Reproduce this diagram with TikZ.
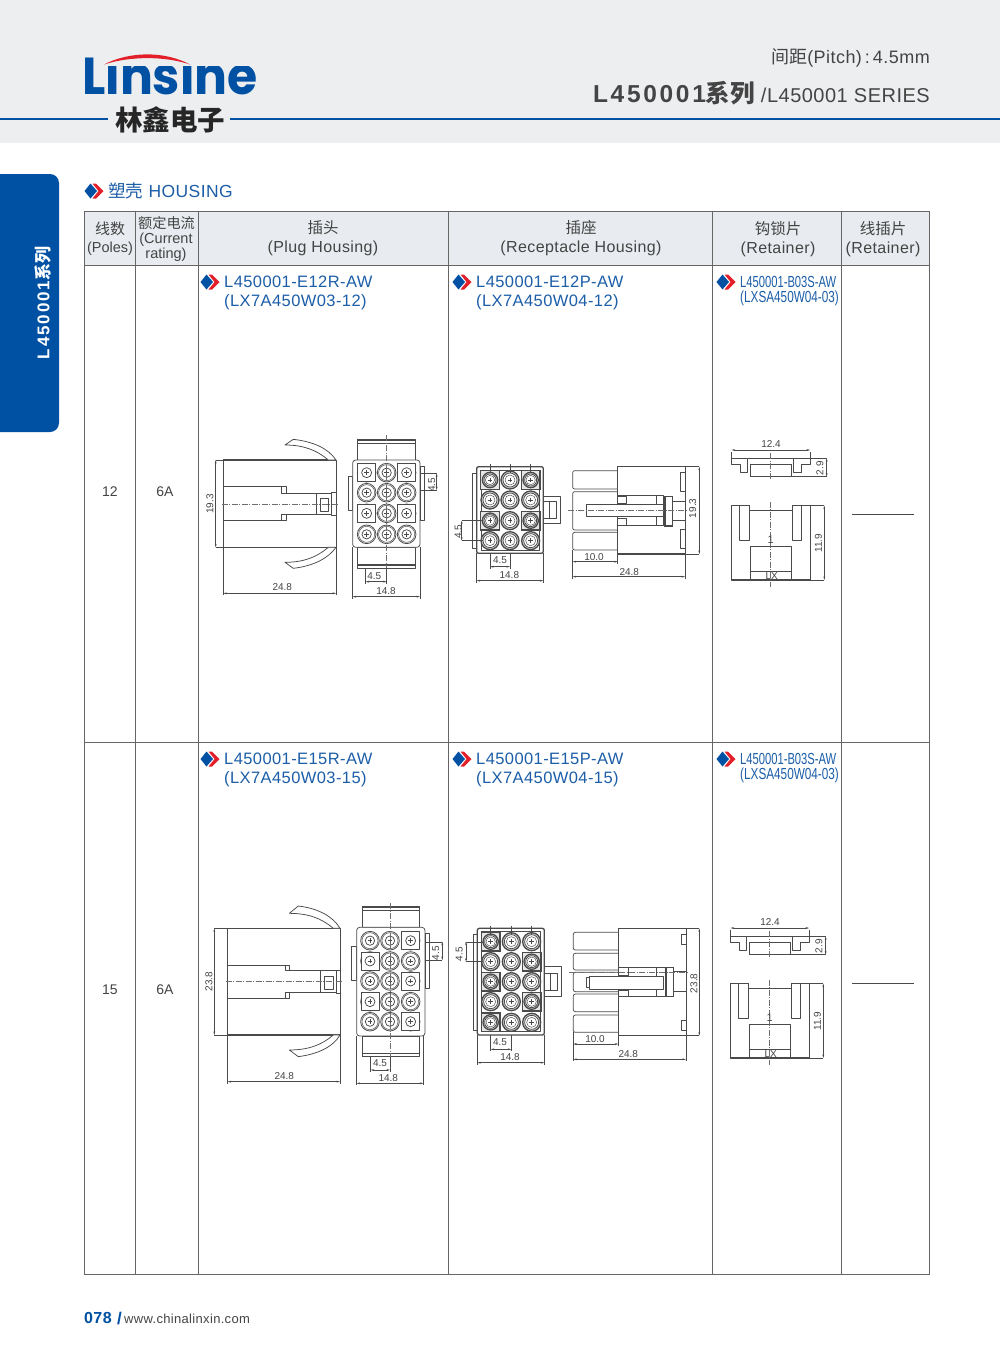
\documentclass[tikz,border=0pt]{standalone}
\usepackage{fontspec}
\usetikzlibrary{arrows.meta}
\setmainfont{Liberation Sans}
\newfontfamily\cjk{Noto Sans CJK SC}
\newfontfamily\lsp[LetterSpace=2.5]{Liberation Sans}
\newfontfamily\lspb[LetterSpace=11]{Liberation Sans}
\newfontfamily\cond[FakeStretch=0.70]{Liberation Sans}
\newfontfamily\condb[FakeStretch=0.735]{Liberation Sans}
\newfontfamily\logof{Poppins}
\definecolor{brand}{HTML}{0050A3}
\definecolor{lab}{HTML}{1C5EA8}
\definecolor{hdr}{HTML}{ECEEF0}
\definecolor{thead}{HTML}{E8ECF0}
\definecolor{grid}{HTML}{666666}
\definecolor{ink}{HTML}{4A4A4A}
\definecolor{txt}{HTML}{444444}
\definecolor{redmark}{HTML}{E3202A}
\definecolor{ringc}{HTML}{CFCFCF}
\newcommand{\fs}[1]{\fontsize{#1}{#1}\selectfont}
\newcount\nid
\tikzset{
 txtn/.style={inner sep=0pt,text=txt},
 part/.style={draw=ink,line width=0.75pt,line join=round},
 heavy/.style={draw=ink,line width=1.3pt},
 thin/.style={draw=ink,line width=0.45pt},
 cl/.style={draw=ink!80,line width=0.35pt,dash pattern=on 6pt off 1.5pt on 1pt off 1.5pt},
 dimn/.style={draw=ink,line width=0.35pt},
 dima/.style={draw=ink,line width=0.35pt,{Stealth[length=3.5pt,width=1.8pt]}-{Stealth[length=3.5pt,width=1.8pt]}},
 gridl/.style={draw=grid,line width=1pt},
}
% horizontal dim: x1 x2 y text tx ty ext-start-y
\newcommand{\dimh}[7]{%
 \draw[dimn] (#1,#7) -- (#1,#3+6) (#2,#7) -- (#2,#3+6);
 \draw[dima] (#1,#3) -- (#2,#3);
 \global\advance\nid by 1
 \node[inner sep=0pt,text=txt,font=\fs{10}] (d\the\nid) at (#5,#6) {#4};
}
% vertical dim: y1 y2 x text tx ty ext-start-x
\newcommand{\dimv}[7]{%
 \draw[dimn] (#7,#1) -- (#3,#1) (#7,#2) -- (#3,#2);
 \draw[dima] (#3,#1) -- (#3,#2);
 \global\advance\nid by 1
 \node[inner sep=0pt,text=txt,font=\fs{10},rotate=90] (d\the\nid) at (#5,#6) {#4};
}
\newcommand{\plugpin}[2]{%
 \draw[part,fill=ringc!50] (#1,#2) circle[radius=28];
 \draw[thin,fill=white] (#1,#2) circle[radius=24];
 \draw[part] (#1,#2) circle[radius=14];
 \draw[thin] (#1-7,#2) -- (#1+7,#2) (#1,#2-7) -- (#1,#2+7);
}
\newcommand{\plugsq}[2]{%
 \draw[part,fill=white] (#1-27,#2-27) rectangle (#1+27,#2+27);
 \draw[part] (#1,#2) circle[radius=15];
 \draw[thin] (#1-7,#2) -- (#1+7,#2) (#1,#2-7) -- (#1,#2+7);
}
\newcommand{\recpin}[2]{%
 \draw[heavy,fill=ringc] (#1,#2) circle[radius=27];
 \draw[part,fill=white] (#1,#2) circle[radius=21];
 \draw[thin] (#1,#2) circle[radius=15];
 \draw[thin] (#1-7,#2) -- (#1+7,#2) (#1,#2-7) -- (#1,#2+7);
}
\newcommand{\recsq}[2]{%
 \draw[heavy,fill=ringc!50] (#1-28,#2-28) rectangle (#1+28,#2+28);
 \draw[heavy,fill=ringc] (#1,#2) circle[radius=23];
 \draw[part,fill=white] (#1,#2) circle[radius=18];
 \draw[thin] (#1,#2) circle[radius=14];
 \draw[thin] (#1-7,#2) -- (#1+7,#2) (#1,#2-7) -- (#1,#2+7);
}
\newcommand{\retainer}{%
 \dimh{50}{285}{60}{12.4}{168}{43}{85}
 \draw[part] (98,85) -- (50,85) -- (50,103) -- (75,103) -- (75,128) -- (98,128) -- cycle;
 \draw[part] (235,85) -- (285,85) -- (285,103) -- (258,103) -- (258,128) -- (235,128) -- cycle;
 \draw[part] (105,103) -- (105,140) (228,103) -- (228,140) (105,103) -- (228,103);
 \draw[heavy] (98,85) -- (235,85) (105,140) -- (228,140);
 \draw[cl] (167,70) -- (167,150);
 \dimv{85}{140}{335}{2.9}{315}{115}{228}
 \draw[part] (50,227) -- (102,227) -- (102,240) -- (232,240) -- (232,227) -- (285,227) -- (285,450) -- (228,450) -- (228,350) -- (105,350) -- (105,450) -- (50,450) -- cycle;
 \draw[part] (73,227) rectangle (102,330) (232,227) rectangle (260,330);
 \draw[heavy] (105,425) -- (228,425) (50,450) -- (285,450);
 \draw[cl] (167,215) -- (167,470);
 \global\advance\nid by 1
 \node[inner sep=0pt,text=txt,font=\fs{11}] (d\the\nid) at (167,328) {1};
 \global\advance\nid by 1
 \node[inner sep=0pt,text=txt,font=\fs{10}] (d\the\nid) at (170,437) {LX};
 \dimv{227}{450}{328}{11.9}{310}{340}{285}
}
\newcommand{\diam}[2]{%
 \fill[redmark] (#1-1.5,#2-7.5) -- (#1+2,#2-7.5) -- (#1+9.5,#2) -- (#1+2,#2+7.5) -- (#1-1.5,#2+7.5) -- (#1+4.5,#2) -- cycle;
 \fill[brand] (#1-9.5,#2) -- (#1-3.5,#2-7.5) -- (#1+3,#2) -- (#1-3.5,#2+7.5) -- cycle;
}
\begin{document}
\begin{tikzpicture}[x=1pt,y=-1pt]
\useasboundingbox (0,0) rectangle (1000,1366);
\fill[white] (0,0) rectangle (1000,1366);
% header band
\fill[hdr] (0,0) rectangle (1000,143);
\coordinate (hl1) at (0,119); \coordinate (hl2) at (108,119);
\coordinate (hl3) at (230,119); \coordinate (hl4) at (1000,119);
\draw[brand,line width=1.6pt] (hl1) -- (hl2) (hl3) -- (hl4);
% logo
\begin{scope}
 \clip (80,50) -- (106,50) -- (106,65.5) -- (262,65.5) -- (262,105) -- (80,105) -- cycle;
 \node[inner sep=0pt,text=brand,font={\logof\bfseries\fs{52}},xscale=0.94,transform shape,anchor=base,text depth=0pt] (logo) at (170,94) {Linsine};
\end{scope}
\fill[redmark] (104,64.5) .. controls (130,51) and (165,51) .. (190,64.5) .. controls (165,56) and (130,56) .. cycle;
\node[inner sep=0pt,text=black!85,font={\cjk\bfseries\fs{27.5}}] (logozh) at (170,120) {林鑫电子};
% header text
\node[txtn,anchor=east,font={\lsp\fs{18}}] (pitch) at (930,58) {{\cjk 间距}(Pitch)\,:\,4.5mm};
\node[txtn,anchor=east] (series) at (930,93.5) {{\lspb\bfseries\fs{24.5}L450001}{\cjk\bfseries\fs{24.5}系列}\hspace{6pt}{\lsp\fs{20}/L450001 SERIES}};
% side tab
\fill[brand,rounded corners=9pt] (-20,174) -- (59,174) -- (59,432) -- (-20,432) -- cycle;
\node[inner sep=0pt,text=white,rotate=90] (tab) at (43,303) {{\lspb\bfseries\fs{17}L450001}{\cjk\bfseries\fs{17}系列}};
% heading
\diam{94}{191}
\node[inner sep=0pt,anchor=west,text=lab,font={\lsp\fs{17.5}}] (head) at (108,191) {{\cjk 塑壳} HOUSING};
% table
\fill[thead] (84,211) rectangle (929,265);
\draw[gridl] (84,211) rectangle (929,1274);
\draw[gridl] (84,265) -- (929,265) (84,742) -- (929,742);
\foreach \x in {135,198,448,712,841} \draw[gridl] (\x,211) -- (\x,1274);
% table header text
\node[txtn,font={\cjk\fs{15}}] (h1a) at (110,229) {线数};
\node[txtn,font={\fs{14.5}}] (h1b) at (110,248.5) {(Poles)};
\node[txtn,font={\cjk\fs{14.2}}] (h2a) at (166.5,223) {额定电流};
\node[txtn,font={\fs{14.5}}] (h2b) at (166,240) {(Current};
\node[txtn,font={\fs{14.5}}] (h2c) at (166,255) {rating)};
\node[txtn,font={\cjk\fs{15.5}}] (h3a) at (323,228) {插头};
\node[txtn,font={\lsp\fs{16}}] (h3b) at (323,248.5) {(Plug Housing)};
\node[txtn,font={\cjk\fs{15.5}}] (h4a) at (581,228) {插座};
\node[txtn,font={\lsp\fs{16}}] (h4b) at (581,248.5) {(Receptacle Housing)};
\node[txtn,font={\cjk\fs{15.5}}] (h5a) at (778,229) {钩锁片};
\node[txtn,font={\lsp\fs{16}}] (h5b) at (778,249.5) {(Retainer)};
\node[txtn,font={\cjk\fs{15.5}}] (h6a) at (883,229) {线插片};
\node[txtn,font={\lsp\fs{16}}] (h6b) at (883,249.5) {(Retainer)};
% row labels
\node[txtn,font={\fs{14}}] (r1a) at (110,492) {12};
\node[txtn,font={\fs{14}}] (r1b) at (165,492) {6A};
\node[txtn,font={\fs{14}}] (r2a) at (110,990) {15};
\node[txtn,font={\fs{14}}] (r2b) at (165,990) {6A};
% part labels
\foreach \dy/\a/\b/\c/\d in {0/E12R-AW/W03-12/E12P-AW/W04-12,477/E15R-AW/W03-15/E15P-AW/W04-15}{
 \diam{210}{282+\dy}
 \diam{462}{282+\dy}
 \diam{726}{282+\dy}
 \node[inner sep=0pt,anchor=west,text=lab,font={\lsp\fs{16.5}}] (a\dy) at (224,282+\dy) {L450001-\a};
 \node[inner sep=0pt,anchor=west,text=lab,font={\lsp\fs{16.5}}] (b\dy) at (224,302.5+\dy) {(LX7A450\b)};
 \node[inner sep=0pt,anchor=west,text=lab,font={\lsp\fs{16.5}}] (c\dy) at (476,282+\dy) {L450001-\c};
 \node[inner sep=0pt,anchor=west,text=lab,font={\lsp\fs{16.5}}] (e\dy) at (476,302.5+\dy) {(LX7A450\d)};
 \node[inner sep=0pt,anchor=west,text=lab,font={\cond\fs{16}}] (f\dy) at (740,282+\dy) {L450001-B03S-AW};
 \node[inner sep=0pt,anchor=west,text=lab,font={\condb\fs{16}}] (g\dy) at (740,298.5+\dy) {(LXSA450W04-03)};
}
% dashes in last column
\coordinate (da1) at (852,514); \coordinate (da2) at (914,514);
\coordinate (db1) at (852,983); \coordinate (db2) at (914,983);
\draw[ink,line width=0.6pt] (da1) -- (da2) (db1) -- (db2);
% ---------- row 1 plug
\begin{scope}[shift={(200,430)},x=0.3333pt,y=-0.3333pt]
 \draw[part] (70,90) rectangle (408,352);
 \draw[heavy] (70,90) -- (408,90) (70,352) -- (408,352);
 \draw[part] (70,170) -- (258,170) -- (258,190) -- (395,190) (70,270) -- (258,270) -- (258,252) -- (395,252);
 \draw[part] (245,170) -- (245,190) -- (350,190) -- (350,252) -- (245,252) -- (245,270);
 \draw[part] (360,205) rectangle (385,245) (395,188) rectangle (408,255);
 \draw[cl] (65,222) -- (415,222);
 \draw[part,fill=white] (255,45) -- (280,28) .. controls (340,35) and (385,55) .. (408,90) -- (385,90) .. controls (350,60) and (310,45) .. (255,45) -- cycle;
 \draw[part,fill=white] (255,397) -- (280,415) .. controls (340,408) and (385,385) .. (408,352) -- (385,352) .. controls (350,382) and (310,397) .. (255,397) -- cycle;
 \dimv{90}{352}{47}{19.3}{30}{222}{70}
 \dimh{70}{408}{490}{24.8}{247}{472}{352}
 \draw[part] (445,140) rectangle (458,240) (660,110) rectangle (672,270);
 \draw[part] (473,28) rectangle (645,90) (473,352) rectangle (645,415);
 \draw[heavy] (473,30) -- (645,30) (473,40) -- (645,40) (473,405) -- (645,405) (473,415) -- (645,415);
 \draw[part,fill=white,rounded corners=3pt] (458,90) rectangle (660,352);
 \foreach \y in {128,188,250,313} \foreach \x in {500,560,620} {\plugpin{\x}{\y}}
 \foreach \x/\y in {500/128,620/128,500/250,620/250} {\plugsq{\x}{\y}}
 \draw[cl] (560,15) -- (560,425);
 \dimh{497}{560}{455}{4.5}{523}{437}{415}
 \dimh{458}{660}{500}{14.8}{558}{483}{352}
 \dimv{130}{180}{710}{4.5}{695}{165}{660}
\end{scope}
% ---------- row 1 receptacle
\begin{scope}[shift={(450,450)},x=0.3333pt,y=-0.3333pt]
 \draw[part] (68,70) rectangle (80,295);
 \draw[part] (280,138) rectangle (332,220) (280,155) rectangle (320,205) (298,155) -- (298,205);
 \draw[heavy,rounded corners=2pt] (80,50) rectangle (280,310);
 \draw[part] (93,60) rectangle (268,300);
 \foreach \x/\y in {120/90,242/90,120/212,242/212} {\recsq{\x}{\y}}
 \foreach \x/\y in {180/90,120/150,180/150,242/150,180/212,120/272,180/272,242/272} {\recpin{\x}{\y}}
 \foreach \x in {120,180,242} \draw[thin] (\x,42) -- (\x,70);
 \dimv{212}{272}{35}{4.5}{25}{245}{100}
 \dimh{120}{180}{350}{4.5}{150}{330}{310}
 \dimh{80}{280}{392}{14.8}{178}{375}{310}
 % side
 \draw[part,rounded corners=2pt] (503,62) -- (368,62) -- (368,117) -- (503,117);
 \draw[part,rounded corners=2pt] (503,125) -- (368,125) -- (368,240) -- (503,240);
 \draw[part,rounded corners=2pt] (503,247) -- (368,247) -- (368,300) -- (503,300);
 \draw[part,fill=white] (503,50) rectangle (705,312);
 \draw[heavy] (503,50) -- (705,50) (503,312) -- (705,312);
 \draw[part] (690,68) rectangle (705,125) (690,237) rectangle (705,295);
 \draw[part] (503,137) -- (640,137) -- (640,225) -- (503,225) (618,137) -- (618,225);
 \draw[part,fill=white] (408,162) rectangle (640,200);
 \draw[part] (503,140) rectangle (530,160) (503,205) rectangle (530,225);
 \draw[heavy,fill=white] (645,140) rectangle (667,228);
 \draw[part] (667,155) -- (705,155) (667,210) -- (705,210);
 \draw[cl] (355,180) -- (715,180);
 \dimv{50}{312}{748}{19.3}{728}{175}{705}
 \dimh{368}{503}{335}{10.0}{432}{320}{300}
 \dimh{368}{705}{380}{24.8}{538}{365}{312}
\end{scope}
% ---------- row 1 retainer
\begin{scope}[shift={(715,430)},x=0.3333pt,y=-0.3333pt]
 \retainer
\end{scope}
% ---------- row 2 plug
\begin{scope}[shift={(205,900)},x=0.3333pt,y=-0.3333pt]
 \draw[part] (68,85) rectangle (405,405);
 \draw[heavy] (68,85) -- (405,85) (68,405) -- (405,405);
 \draw[part] (68,195) -- (252,195) -- (252,212) -- (393,212) (68,295) -- (252,295) -- (252,278) -- (393,278);
 \draw[part] (240,195) -- (240,212) -- (345,212) -- (345,278) -- (240,278) -- (240,295);
 \draw[part] (358,228) rectangle (385,268) (393,212) rectangle (405,280);
 \draw[cl] (62,245) -- (412,245);
 \draw[part,fill=white] (253,40) -- (280,18) .. controls (340,25) and (385,50) .. (405,85) -- (385,85) .. controls (350,55) and (310,40) .. (253,40) -- cycle;
 \draw[part,fill=white] (253,450) -- (280,470) .. controls (340,462) and (385,440) .. (405,405) -- (385,405) .. controls (350,435) and (310,450) .. (253,450) -- cycle;
 \dimv{85}{405}{28}{23.8}{12}{245}{68}
 \dimh{68}{405}{545}{24.8}{238}{527}{405}
 \draw[part] (440,140) rectangle (455,240) (660,100) rectangle (672,265);
 \draw[part] (472,20) rectangle (642,82) (472,408) rectangle (642,470);
 \draw[heavy] (472,22) -- (642,22) (472,32) -- (642,32) (472,460) -- (642,460) (472,470) -- (642,470);
 \draw[part,fill=white,rounded corners=3pt] (455,82) rectangle (660,408);
 \foreach \y in {122,183,243,305,365} \foreach \x in {495,555,617} {\plugpin{\x}{\y}}
 \foreach \x/\y in {617/122,495/183,617/243,495/305,617/365} {\plugsq{\x}{\y}}
 \draw[cl] (555,10) -- (555,480);
 \dimh{497}{555}{510}{4.5}{525}{490}{470}
 \dimh{455}{655}{550}{14.8}{550}{533}{408}
 \dimv{125}{180}{712}{4.5}{692}{160}{660}
\end{scope}
% ---------- row 2 receptacle
\begin{scope}[shift={(450,915)},x=0.3333pt,y=-0.3333pt]
 \draw[part] (70,58) rectangle (82,345);
 \draw[part] (283,155) rectangle (335,245) (283,175) rectangle (322,225) (302,175) -- (302,225);
 \draw[heavy,rounded corners=2pt] (82,40) rectangle (283,360);
 \draw[part] (95,50) rectangle (270,350);
 \foreach \x/\y in {122/80,245/140,122/200,245/260,122/322} {\recsq{\x}{\y}}
 \foreach \x/\y in {184/80,245/80,122/140,184/140,184/200,245/200,122/260,184/260,184/322,245/322} {\recpin{\x}{\y}}
 \foreach \x in {122,184,245} \draw[thin] (\x,32) -- (\x,60);
 \dimv{80}{140}{48}{4.5}{28}{118}{100}
 \dimh{122}{184}{403}{4.5}{150}{382}{360}
 \dimh{82}{283}{443}{14.8}{180}{426}{360}
 % side
 \draw[part,rounded corners=2pt] (505,52) -- (370,52) -- (370,105) -- (505,105);
 \draw[part,rounded corners=2pt] (505,115) -- (370,115) -- (370,165) -- (505,165);
 \draw[part,rounded corners=2pt] (505,172) -- (370,172) -- (370,230) -- (505,230);
 \draw[part,rounded corners=2pt] (505,237) -- (370,237) -- (370,290) -- (505,290);
 \draw[part,rounded corners=2pt] (505,300) -- (370,300) -- (370,352) -- (505,352);
 \draw[part,fill=white] (505,40) rectangle (708,362);
 \draw[heavy] (505,40) -- (708,40) (505,362) -- (708,362);
 \draw[part] (695,58) rectangle (708,88) (695,316) rectangle (708,346);
 \draw[part] (535,158) -- (648,158) -- (648,245) -- (535,245) (618,158) -- (618,245);
 \draw[part,fill=white] (418,183) rectangle (640,222);
 \draw[part] (408,187) rectangle (418,218);
 \draw[part] (505,158) rectangle (535,182) (505,225) rectangle (535,245);
 \draw[heavy,fill=white] (648,158) rectangle (670,245);
 \draw[part] (670,170) -- (708,170) (670,230) -- (708,230);
 \draw[cl] (358,172) -- (715,172);
 \dimv{40}{362}{748}{23.8}{732}{205}{708}
 \dimh{370}{505}{387}{10.0}{435}{372}{352}
 \dimh{370}{708}{433}{24.8}{535}{418}{362}
\end{scope}
% ---------- row 2 retainer
\begin{scope}[shift={(714,908)},x=0.3333pt,y=-0.3333pt]
 \retainer
\end{scope}
% footer
\node[inner sep=0pt,anchor=west,text=brand,font={\lsp\bfseries\fs{16}}] (pg) at (84,1318) {078};
\node[inner sep=0pt,anchor=west,text=brand,font={\bfseries\fs{17}}] (sl) at (117,1318) {/};
\node[txtn,anchor=west,font={\lsp\fs{13}}] (url) at (124,1319) {www.chinalinxin.com};
\end{tikzpicture}
\end{document}
